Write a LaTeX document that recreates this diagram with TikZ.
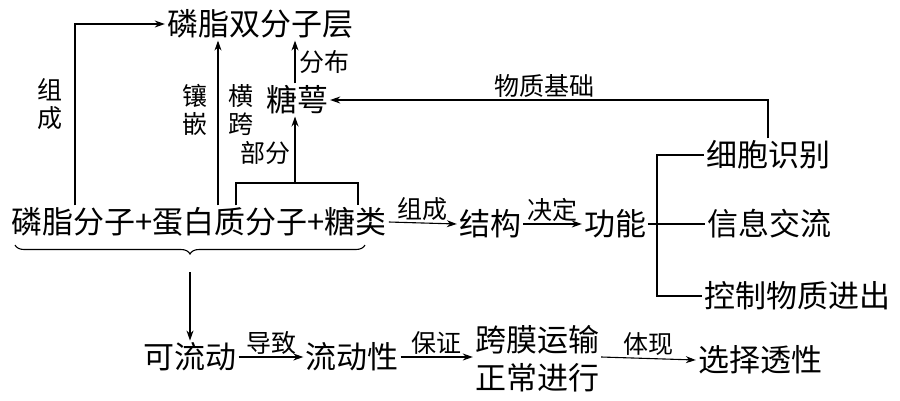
\documentclass[tikz,border=0pt]{standalone}
\usepackage{fontspec}
\newfontfamily\cjk{Noto Sans CJK SC}
\usetikzlibrary{positioning}
\usetikzlibrary{arrows.meta}
\usetikzlibrary{decorations.pathreplacing}
\tikzset{
        termnode/.style={align=center,inner sep=2pt},
        % Main terms
        node_main/.style={termnode, font=\cjk\fontsize{31}{38}\selectfont},
        % Labels on the arrows
        node_label/.style={termnode, font=\cjk\fontsize{25}{28}\selectfont},
        % Lines
        link/.style={line width=1.1pt}
}
\begin{document}
\begin{tikzpicture}[
            x=1pt, y=-1pt,
            >={Stealth[length=10pt,width=7pt]}
        ]
            \useasboundingbox (0,0) rectangle (900,400);
            % Terms
            \node[node_main] (bilayer) at (260,24) {磷脂双分子层};
            \node[node_main] (glyco) at (297,100) {糖萼};
            \node[node_main] (comp) at (199,222) {磷脂分子+蛋白质分子+糖类};
            \node[node_main] (struct) at (490,224) {结构};
            \node[node_main] (func) at (615,224) {功能};
            \node[node_main] (recog) at (768,155) {细胞识别};
            \node[node_main] (info) at (769,224) {信息交流};
            \node[node_main] (ctrl) at (797,296) {控制物质进出};
            \node[node_main] (canflow) at (190,357) {可流动};
            \node[node_main] (fluid) at (352,357) {流动性};
            \node[node_main] (trans) at (537,359) {跨膜运输\\正常进行};
            \node[node_main] (selec) at (760,360) {选择透性};
            % Helper coordinates
            \coordinate (xl) at (75,0);
            \coordinate (xm) at (218,0);
            \coordinate (bl) at (236,183);
            \coordinate (br) at (358,183);
            \coordinate (bm) at (295,183);
            \coordinate (tx) at (657,0);
            \coordinate (bracel) at (15,245);
            \coordinate (bracer) at (365,245);
            \coordinate (bracetip) at (190,272);
            % Upper part
            \draw[link,->] (comp.north -| xl) |- (bilayer.west);
            \node[node_label] at (50,104) {组\\成};
            \draw[link,->] (comp.north -| xm) -- (bilayer.south -| xm);
            \node[node_label] at (195,110) {镶\\嵌};
            \node[node_label] at (241,110) {横\\跨};
            \draw[link] (comp.north -| bl) -- (bl) -- (br) -- (comp.north -| br);
            \draw[link,->] (bm) -- (glyco.south -| bm) node[node_label, pos=0.45, left=2pt] {部分};
            \draw[link,->] (glyco.north -| bm) -- (bilayer.south -| bm) node[node_label, midway, right=2pt] {分布};
            \draw[link,->] (recog.north) |- node[node_label, pos=0.755, above] {物质基础} (glyco.east);
            % Middle row
            \draw[link,->] (comp.east) -- node[node_label, above] {组成} (struct.west);
            \draw[link,->] (struct.east) -- node[node_label, above] {决定} (func.west);
            \draw[link] (func.east) -- (info.west);
            \draw[link] (recog.west) -| (ctrl.west -| tx) -- (ctrl.west);
            % Lower part
            \draw[link, decorate, decoration={brace, mirror, amplitude=9pt}] (bracel) -- (bracer);
            \draw[link,->] (bracetip) -- (canflow.north);
            \draw[link,->] (canflow.east) -- node[node_label, above] {导致} (fluid.west);
            \draw[link,->] (fluid.east) -- node[node_label, above] {保证} (fluid.east -| trans.west);
            \draw[link,->] (fluid.east -| trans.east) -- node[node_label, above] {体现} (selec.west);
        \end{tikzpicture}
\end{document}
